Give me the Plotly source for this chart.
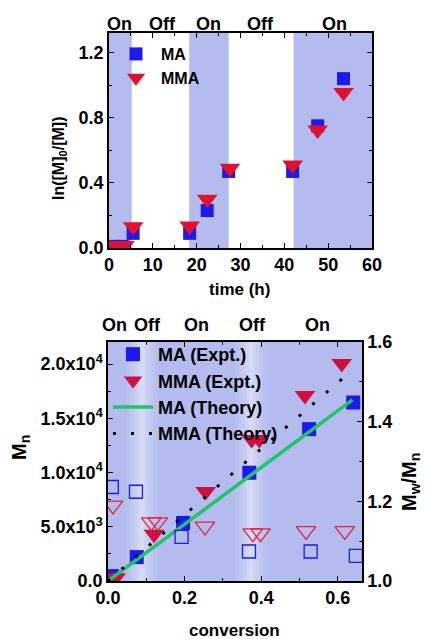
import plotly.graph_objects as go

# ---------------- data: top panel ----------------
time_ma = [1, 3, 5.5, 18.4, 22.4, 27.3, 41.9, 47.6, 53.5]
ln_ma = [0.01, 0.01, 0.09, 0.09, 0.23, 0.47, 0.47, 0.75, 1.04]
time_mma = [1.5, 3.5, 5.5, 18.4, 22.4, 27.6, 41.9, 47.6, 53.5]
ln_mma = [0.015, 0.015, 0.13, 0.135, 0.30, 0.49, 0.51, 0.725, 0.955]
on_periods_top = [(0, 5.2), (18.3, 27.3), (42.1, 60)]
top_labels = ["On", "Off", "On", "Off", "On"]
top_label_x = [2.5, 12.3, 22.8, 34.5, 51.5]

# ---------------- data: bottom panel ----------------
conv_ma = [0.01, 0.075, 0.196, 0.369, 0.525, 0.640]
mn_ma = [450, 2200, 5350, 9980, 14000, 16450]
conv_mma = [0.02, 0.120, 0.255, 0.375, 0.395, 0.514, 0.610]
mn_mma = [300, 4300, 8250, 13050, 13050, 17100, 20050]
conv_ma_pdi = [0.01, 0.073, 0.192, 0.368, 0.529, 0.647]
pdi_ma = [1.236, 1.224, 1.111, 1.074, 1.074, 1.063]
conv_mma_pdi = [0.013, 0.113, 0.130, 0.253, 0.378, 0.398, 0.517, 0.618]
pdi_mma = [1.19, 1.148, 1.148, 1.137, 1.12, 1.12, 1.126, 1.126]
theory_ma_x = [0.0, 0.638]
theory_ma_y = [0.0, 16700]
theory_mma_x = [0.0, 0.62]
theory_mma_y = [0.0, 18900]
off_periods_bottom = [0.088, 0.373]
bottom_labels = ["On", "Off", "On", "Off", "On"]
bottom_label_x = [0.018, 0.104, 0.232, 0.378, 0.548]
mn_ticks = [0, 5000, 10000, 15000, 20000]
mn_ticktext = ["0.0", "5.0x10<sup>3</sup>", "1.0x10<sup>4</sup>",
               "1.5x10<sup>4</sup>", "2.0x10<sup>4</sup>"]

BLUE = "#1a1aee"
RED_TOP = "#e0102e"
CRIMSON = "#cc1040"
SHADE = "#b4bcef"
FONT = "Liberation Sans"

# page has an 8px body margin: the figure starts at (8, 8) in the window
OX, OY = 8.0, 8.0
W, H = 421.0, 631.0


def px(x):
    return (x - OX) / W


def py(y):
    return 1 - (y - OY) / H


fig = go.Figure()

# top panel traces
fig.add_trace(go.Scatter(x=time_ma, y=ln_ma, mode="markers", name="MA",
                         marker=dict(symbol="square", size=13, color=BLUE),
                         xaxis="x", yaxis="y", legend="legend"))
fig.add_trace(go.Scatter(x=time_mma, y=ln_mma, mode="markers", name="MMA",
                         marker=dict(symbol="triangle-down", size=18, color=RED_TOP),
                         xaxis="x", yaxis="y", legend="legend"))

# bottom panel traces
fig.add_trace(go.Scatter(x=conv_ma, y=mn_ma, mode="markers", name="MA (Expt.)",
                         marker=dict(symbol="square", size=14, color=BLUE),
                         xaxis="x2", yaxis="y2", legend="legend2"))
fig.add_trace(go.Scatter(x=conv_mma, y=mn_mma, mode="markers", name="MMA (Expt.)",
                         marker=dict(symbol="triangle-down", size=18, color=CRIMSON),
                         xaxis="x2", yaxis="y2", legend="legend2"))
fig.add_trace(go.Scatter(x=conv_ma_pdi, y=pdi_ma, mode="markers", showlegend=False,
                         marker=dict(symbol="square-open", size=13, color=BLUE,
                                     line=dict(width=1.3)),
                         xaxis="x2", yaxis="y3"))
fig.add_trace(go.Scatter(x=conv_mma_pdi, y=pdi_mma, mode="markers", showlegend=False,
                         marker=dict(symbol="triangle-down-open", size=17, color="#e8203a",
                                     line=dict(width=1.3)),
                         xaxis="x2", yaxis="y3"))
fig.add_trace(go.Scatter(x=theory_ma_x, y=theory_ma_y, mode="lines", name="MA (Theory)",
                         line=dict(color="#22c46a", width=3.5),
                         xaxis="x2", yaxis="y2", legend="legend2"))
fig.add_trace(go.Scatter(x=theory_mma_x, y=theory_mma_y, mode="lines", name="MMA (Theory)",
                         line=dict(color="black", width=3, dash="3px,15px"),
                         xaxis="x2", yaxis="y2", legend="legend2"))

shapes = []
for a, b in on_periods_top:
    shapes.append(dict(type="rect", xref="x", yref="y domain", x0=a, x1=b, y0=0, y1=1,
                       fillcolor=SHADE, line=dict(width=0), layer="below"))
shapes.append(dict(type="rect", xref="x2 domain", yref="y2 domain", x0=0, x1=1, y0=0, y1=1,
                   fillcolor=SHADE, line=dict(width=0), layer="below"))
for c in off_periods_bottom:
    for hw, op in [(0.040, 0.08), (0.030, 0.10), (0.021, 0.12), (0.013, 0.14), (0.006, 0.16)]:
        shapes.append(dict(type="rect", xref="x2", yref="y2 domain", x0=c - hw, x1=c + hw,
                           y0=0, y1=1, fillcolor="white", opacity=op,
                           line=dict(width=0), layer="below"))

annotations = []
for t, xv in zip(top_labels, top_label_x):
    annotations.append(dict(text=t, x=xv, xref="x", y=py(24), yref="paper",
                            showarrow=False, font=dict(size=18),
                            xanchor="center", yanchor="middle"))
for t, xv in zip(bottom_labels, bottom_label_x):
    annotations.append(dict(text=t, x=xv, xref="x2", y=py(325), yref="paper",
                            showarrow=False, font=dict(size=18),
                            xanchor="center", yanchor="middle"))

annotations += [
    dict(text="ln([M]<sub>0</sub>/[M])", x=px(59), y=py(158), xref="paper", yref="paper",
         textangle=-90, showarrow=False, font=dict(size=16),
         xanchor="center", yanchor="middle"),
    dict(text="time (h)", x=px(240), y=py(290), xref="paper", yref="paper",
         showarrow=False, font=dict(size=17), xanchor="center", yanchor="middle"),
    dict(text="M<sub>n</sub>", x=px(20), y=py(448), xref="paper", yref="paper",
         textangle=-90, showarrow=False, font=dict(size=20),
         xanchor="center", yanchor="middle"),
    dict(text="M<sub>w</sub>/M<sub>n</sub>", x=px(410), y=py(482), xref="paper", yref="paper",
         textangle=-90, showarrow=False, font=dict(size=20),
         xanchor="center", yanchor="middle"),
    dict(text="conversion", x=px(234), y=py(630), xref="paper", yref="paper",
         showarrow=False, font=dict(size=17), xanchor="center", yanchor="middle"),
]

axis_common = dict(showline=True, linecolor="black", linewidth=1.5, ticks="inside",
                   ticklen=5, tickwidth=1.3, tickcolor="black", showgrid=False,
                   zeroline=False, tickfont=dict(size=18), automargin=False)

fig.update_layout(
    width=int(W), height=int(H),
    margin=dict(l=0, r=0, t=0, b=0, autoexpand=False),
    paper_bgcolor="white", plot_bgcolor="white",
    font=dict(family=FONT, color="black", weight="bold"),
    xaxis=dict(domain=[px(109), px(372)], anchor="y", range=[0, 60], dtick=10,
               mirror="ticks", minor=dict(dtick=5, ticks="inside", ticklen=3, tickcolor="black"),
               **axis_common),
    yaxis=dict(domain=[py(248), py(33)], anchor="x", range=[0, 1.32], dtick=0.4,
               tickformat=".1f", mirror="ticks",
               minor=dict(dtick=0.2, ticks="inside", ticklen=3, tickcolor="black"),
               **axis_common),
    xaxis2=dict(domain=[px(108), px(362)], anchor="y2", range=[0, 0.663], dtick=0.2,
                tickformat=".1f", mirror="ticks",
                minor=dict(dtick=0.1, ticks="inside", ticklen=3, tickcolor="black"),
                **axis_common),
    yaxis2=dict(domain=[py(581), py(342)], anchor="x2", range=[0, 22030],
                tickmode="array", tickvals=mn_ticks, ticktext=mn_ticktext,
                minor=dict(tickmode="array", tickvals=[2500, 7500, 12500, 17500],
                           ticks="inside", ticklen=3, tickcolor="black"),
                **axis_common),
    yaxis3=dict(overlaying="y2", side="right", anchor="x2", range=[1.0, 1.6], dtick=0.2,
                tickformat=".1f",
                minor=dict(dtick=0.1, ticks="inside", ticklen=3, tickcolor="black"),
                **axis_common),
    legend=dict(x=px(111), y=py(37), xanchor="left", yanchor="top",
                bgcolor="rgba(0,0,0,0)", font=dict(size=16), tracegroupgap=0,
                itemwidth=40),
    legend2=dict(x=px(108), y=py(336), xanchor="left", yanchor="top",
                 bgcolor="rgba(0,0,0,0)", font=dict(size=18), tracegroupgap=0,
                 itemwidth=40),
    shapes=shapes,
    annotations=annotations,
    showlegend=True,
)

fig.write_html("out.html")
